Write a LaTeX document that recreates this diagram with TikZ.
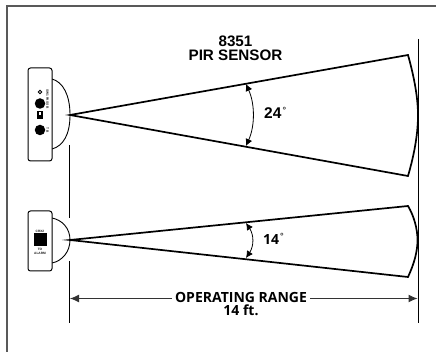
\documentclass[tikz,border=0pt]{standalone}
\usepackage{xcolor}
\usepackage{fontspec}
\usepackage{tikz}
\usetikzlibrary{arrows.meta,positioning,calc}
\setmainfont{Liberation Sans}
\newfontfamily\rangefont{Open Sans}

\begin{document}
\begin{tikzpicture}[
  x=1pt, y=-1pt,
  frameline/.style={draw=black!65, line width=1.7pt},
  guide/.style={line width=0.9pt},
  beam/.style={line width=1.7pt, line join=miter},
  housing/.style={line width=1pt, rounded corners=2.5pt, fill=white},
  dome/.style={line width=0.9pt},
  sweep/.style={{Latex[length=7pt,width=7pt]}-{Latex[length=7pt,width=7pt]}, line width=0.8pt},
  dimline/.style={-{Latex[length=9pt,width=8pt]}, line width=1pt, draw=black!80},
  title/.style={font=\bfseries\fontsize{15.2}{14}\selectfont, align=center, inner sep=0pt},
  anglelabel/.style={font=\bfseries\fontsize{15.5}{14}\selectfont, inner sep=0pt, anchor=west},
  anglelabelB/.style={font=\rangefont\bfseries\fontsize{14}{14}\selectfont, inner sep=0pt, anchor=west},
  deg/.style={font=\bfseries\fontsize{9}{9}\selectfont, inner sep=0pt, anchor=base, text=black!80},
  rangelabel/.style={font=\rangefont\bfseries\fontsize{14}{13}\selectfont, align=center, inner sep=0pt},
  tinylabel/.style={font=\bfseries\fontsize{3.2}{3.4}\selectfont, inner sep=0pt, text=black!90}
]
\useasboundingbox (0,0) rectangle (436,352);

% Frame
\draw[frameline] (436,6) -- (7,6) -- (7,352);

% Guides
\coordinate (guideTop) at (418,39);
\coordinate (guideBot) at (418,323);
\coordinate (leftA) at (69.5,145);
\coordinate (leftB) at (69.5,218);
\coordinate (leftC) at (69.5,261);
\coordinate (leftD) at (69.5,323);
\draw[guide] (guideTop) -- (guideBot);
\draw[guide] (leftA) -- (leftB);
\draw[guide] (leftC) -- (leftD);

% Upper sensor
\coordinate (apexA) at (70,115);
\coordinate (endAt) at (408,55);
\coordinate (endAb) at (408,176);
\draw[dome] (52,79) .. controls (63,82) and (70,95) .. (70,115) .. controls (70,135) and (63,146) .. (52,149);
\node[housing, draw, minimum width=24pt, minimum height=93pt, inner sep=0pt] (bodyA) at (40,114.5) {};
\draw[beam] (apexA) -- (endAt) .. controls (415,80) and (418,100) .. (418,115) .. controls (418,132) and (415,152) .. (endAb) -- cycle;
\node[circle, draw, line width=0.8pt, minimum size=3.5pt, inner sep=0pt] (ledA) at (40,92) {};
\node[circle, fill=black, minimum size=10.5pt, inner sep=0pt] (holeA) at (40,103.5) {};
\node[draw, line width=0.6pt, fill=black, minimum width=5pt, minimum height=7pt, inner sep=0pt] (switchA) at (40,115) {};
\node[fill=white, minimum width=2pt, minimum height=3pt, inner sep=0pt] (switchTop) at (39.5,113.5) {};
\node[circle, fill=black, minimum size=10.5pt, inner sep=0pt] (holeB) at (40,130) {};
\node[tinylabel, rotate=-90] (passLbl) at (47.5,99) {SW1 PASS B};
\node[tinylabel, rotate=-90] (tbLbl) at (47.5,130) {T B};

% Lower sensor
\coordinate (apexB) at (70,240);
\coordinate (endBt) at (408,206);
\coordinate (endBb) at (408,277);
\draw[dome] (52,218) .. controls (62,220) and (70,228) .. (70,240) .. controls (70,252) and (62,261) .. (52,263);
\node[housing, draw, minimum width=24pt, minimum height=60pt, inner sep=0pt] (bodyB) at (40,241) {};
\draw[beam] (apexB) -- (endBt) .. controls (414,216) and (417.5,229) .. (417.5,240) .. controls (417.5,252) and (414,264) .. (endBb) -- cycle;
\node[fill=black, minimum size=13pt, inner sep=0pt] (squareB) at (40,240) {};
\node[tinylabel, above=1pt of squareB] (crxLbl) {CRX2};
\node[tinylabel, below=1.5pt of squareB, align=center] (alarmLbl) {TO\\ALARM};

% Sweep angles
\draw[sweep] (246,84) .. controls (255,104) and (255,126) .. (246,146);
\draw[sweep] (246,223) .. controls (254,235) and (254,246) .. (246,258);

% Labels
\node[title] (titleLbl) at (235.5,48.5) {8351\\PIR SENSOR};
\node[anglelabel] (angleA) at (264,113.5) {24};
\node[deg] (degA) at (284.5,113.5) {°};
\node[anglelabelB] (angleB) at (263,239.5) {14};
\node[deg] (degB) at (282,239.5) {°};

% Range
\node[rangelabel] (rangeLbl) at (241,304.5) {OPERATING RANGE\\14 ft.};
\coordinate (rangeL) at (70,298.5);
\coordinate (rangeR) at (417.5,298.5);
\coordinate (rangeMidL) at (172,298.5);
\coordinate (rangeMidR) at (310,298.5);
\draw[dimline] (rangeMidL) -- (rangeL);
\draw[dimline] (rangeMidR) -- (rangeR);
\end{tikzpicture}
\end{document}
